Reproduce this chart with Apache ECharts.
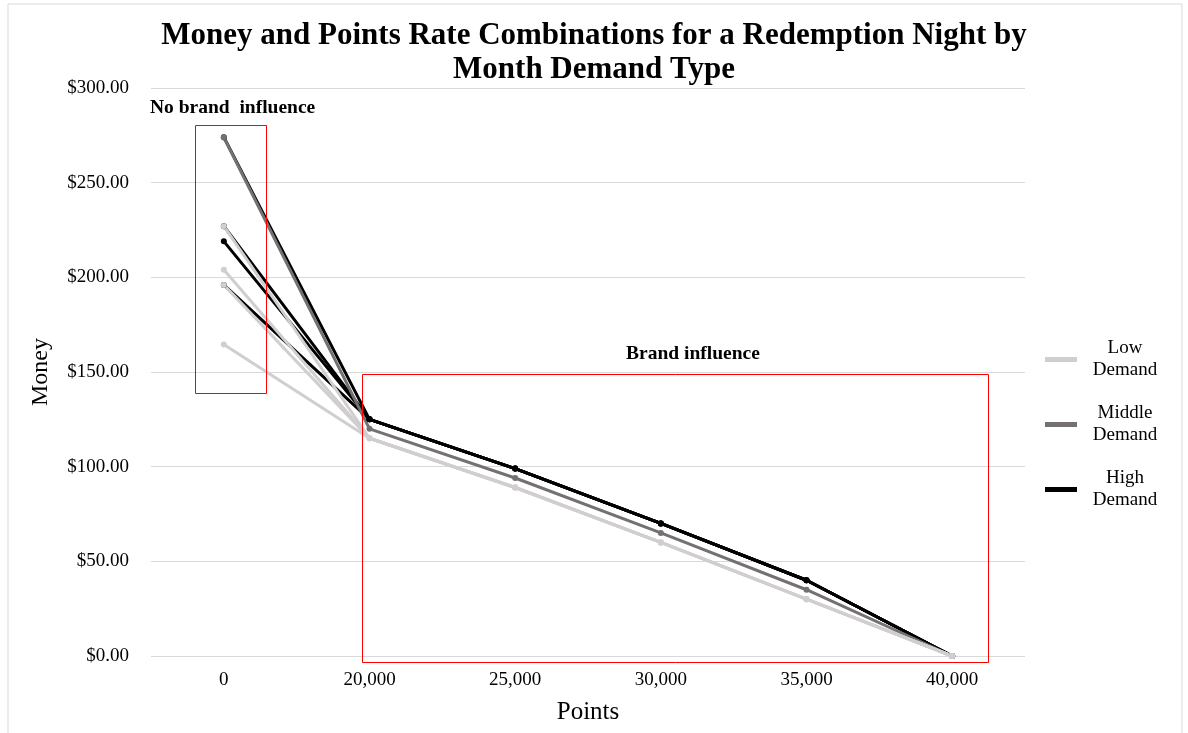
<!DOCTYPE html>
<html><head><meta charset="utf-8">
<script src="https://cdn.jsdelivr.net/npm/echarts@6/dist/echarts.min.js"></script>
<style>html,body{margin:0;padding:0;background:#fff}#c{width:1188px;height:733px}</style>
</head><body><div id="c"></div>
<script>
const categories = ['0', '20,000', '25,000', '30,000', '35,000', '40,000'];
const yTicks = [0, 50, 100, 150, 200, 250, 300];
// values at 20,000 .. 40,000 points
const lowTail = [115, 89, 60, 30, 0];
const middleTail = [120, 94, 65, 35, 0];
const highTail = [125, 99, 70, 40, 0];
// money-only rates (0 points) per month line
const lowStarts = [227, 204, 196, 164.5];
const middleStarts = [274];
const highStarts = [274, 227, 219, 196];

const FONT = 'Liberation Serif';
const types = [
  {name: 'High Demand', color: '#000000', starts: highStarts, tail: highTail},
  {name: 'Middle Demand', color: '#767171', starts: middleStarts, tail: middleTail},
  {name: 'Low Demand', color: '#d0cece', starts: lowStarts, tail: lowTail}
];
const series = [];
types.forEach(t => {
  t.starts.forEach(s => {
    series.push({
      name: t.name, type: 'line', data: [s].concat(t.tail),
      symbol: 'circle', symbolSize: 6, showSymbol: true,
      lineStyle: {color: t.color, width: 3}, itemStyle: {color: t.color},
      emphasis: {disabled: true}, animation: false
    });
  });
});

const chart = echarts.init(document.getElementById('c'));
chart.setOption({
  backgroundColor: '#fff',
  animation: false,
  title: {
    text: 'Money and Points Rate Combinations for a Redemption Night by\nMonth Demand Type',
    left: 'center', top: 14,
    textStyle: {fontFamily: FONT, fontSize: 31, fontWeight: 'bold', color: '#000', lineHeight: 34}
  },
  legend: {
    orient: 'vertical', left: 1040, top: 334,
    data: ['Low Demand', 'Middle Demand', 'High Demand'],
    icon: 'rect', itemWidth: 32, itemHeight: 5, itemGap: 24,
    formatter: n => { const p = n.split(' '); return '{c|' + p[0] + '}\n{c|' + p[1] + '}'; },
    textStyle: {fontFamily: FONT, fontSize: 19, color: '#000',
      rich: {c: {width: 86, align: 'center', fontFamily: FONT, fontSize: 19, lineHeight: 22, color: '#000'}}}
  },
  grid: {left: 151, right: 163, top: 88, bottom: 77, containLabel: false},
  xAxis: {
    type: 'category', data: categories, boundaryGap: true,
    name: 'Points', nameLocation: 'middle', nameGap: 44,
    nameTextStyle: {fontFamily: FONT, fontSize: 25, color: '#000'},
    axisLine: {show: false}, axisTick: {show: false},
    axisLabel: {fontFamily: FONT, fontSize: 19, color: '#000', margin: 15}
  },
  yAxis: {
    type: 'value', min: 0, max: 300, interval: 50,
    name: 'Money', nameLocation: 'middle', nameGap: 98, nameRotate: 90,
    nameTextStyle: {fontFamily: FONT, fontSize: 24, color: '#000'},
    axisLine: {show: false}, axisTick: {show: false},
    axisLabel: {fontFamily: FONT, fontSize: 19, color: '#000', margin: 22,
      formatter: v => '$' + v.toFixed(2)},
    splitLine: {lineStyle: {color: '#d9d9d9', width: 1}}
  },
  graphic: [
    {type: 'rect', shape: {x: 8, y: 4, width: 1174, height: 740}, style: {fill: 'none', stroke: '#d9d9d9', lineWidth: 1}, silent: true, z: -1},
    {type: 'rect', shape: {x: 195.5, y: 125.5, width: 71, height: 268}, style: {fill: 'none', stroke: '#ff0000', lineWidth: 1}, silent: true, z: 10},
    {type: 'rect', shape: {x: 362.5, y: 374.5, width: 626, height: 288}, style: {fill: 'none', stroke: '#ff0000', lineWidth: 1}, silent: true, z: 10},
    {type: 'text', left: 150, top: 98, style: {text: 'No brand  influence', fontFamily: FONT, fontSize: 19.5, fontWeight: 'bold', fill: '#000'}, z: 10},
    {type: 'text', left: 626, top: 344, style: {text: 'Brand influence', fontFamily: FONT, fontSize: 19.5, fontWeight: 'bold', fill: '#000'}, z: 10}
  ],
  series: series
});
</script></body></html>
